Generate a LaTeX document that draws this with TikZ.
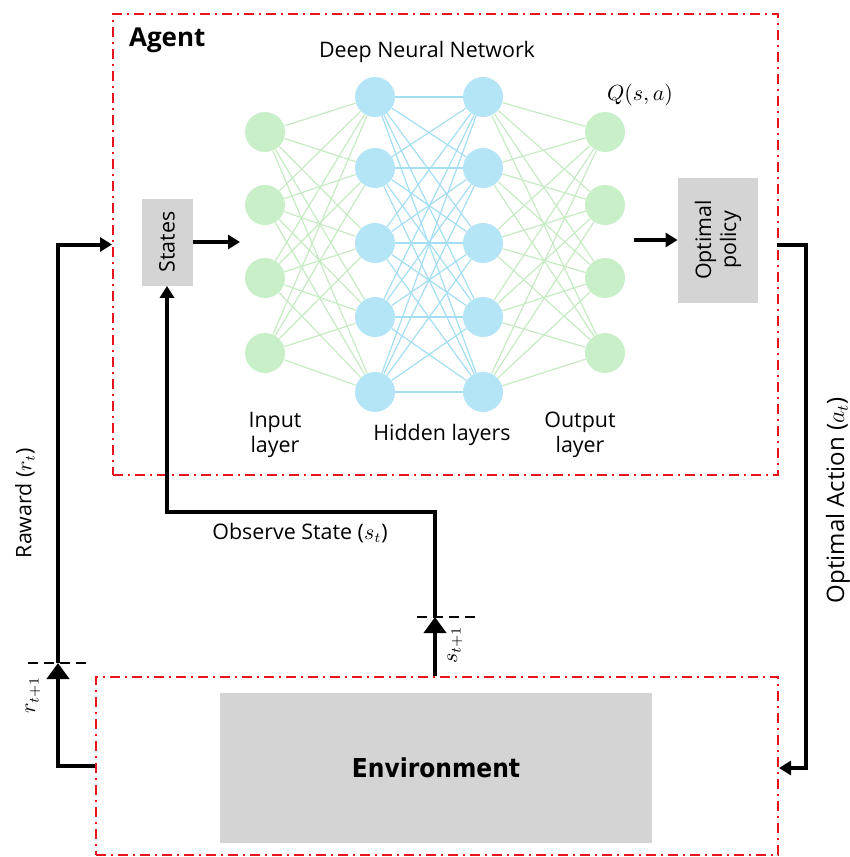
\documentclass[tikz,border=0pt]{standalone}
\usepackage{fontspec}
\setmainfont{Open Sans}
\newfontfamily\condfont{DejaVu Sans Condensed}
\usetikzlibrary{arrows.meta}

\definecolor{framered}{HTML}{E8141C}
\definecolor{boxgray}{HTML}{D4D4D4}
\definecolor{ingreen}{HTML}{C8EFC8}
\definecolor{hidblue}{HTML}{B3E5F7}
\definecolor{greenline}{HTML}{C6EBC3}
\definecolor{blueline}{HTML}{A3DEF2}

\tikzset{
  frame/.style={draw=framered, line width=1pt, dash pattern=on 5pt off 2.5pt on 1pt off 2.5pt},
  graybox/.style={fill=boxgray, inner sep=1pt},
  inneuron/.style={shape=circle, fill=ingreen, minimum size=20pt, inner sep=0pt},
  hidneuron/.style={shape=circle, fill=hidblue, minimum size=20pt, inner sep=0pt},
  wire/.style={line width=2pt},
  smalltip/.style={-{Triangle[length=6pt,width=7pt]}},
  bigtip/.style={-{Triangle[length=8pt,width=11pt]}},
  tick/.style={black, line width=0.8pt, dash pattern=on 5pt off 3pt},
  txt/.style={font=\fontsize{10.7}{12.5}\selectfont}
}

\begin{document}
\begin{tikzpicture}[x=0.5pt,y=-0.5pt]
  \useasboundingbox (0,0) rectangle (850,857);

  % frames
  \node[frame, minimum width=332.5pt, minimum height=230.5pt] (agent) at (445.5,244.5) {};
  \node[frame, minimum width=341pt, minimum height=89pt] (env) at (437,766) {};

  \node[font=\fontsize{13}{15}\selectfont\bfseries, anchor=west] (agentlbl) at (122,40) {Agent};
  \node[txt] (dnn) at (427,52) {Deep Neural Network};

  % network
  \foreach \i/\y in {1/132,2/205,3/278,4/353} {
    \node[inneuron] (in\i) at (265,\y) {};
    \node[inneuron] (out\i) at (605,\y) {};
  }
  \foreach \i/\y in {1/97,2/168,3/243,4/317,5/392} {
    \node[hidneuron] (ha\i) at (375,\y) {};
    \node[hidneuron] (hb\i) at (483,\y) {};
  }
  \foreach \i in {1,...,4}
    \foreach \j in {1,...,5} {
      \path [draw=greenline, line width=0.6pt] (in\i) edge (ha\j);
      \path [draw=greenline, line width=0.6pt] (hb\j) edge (out\i);
    }
  \foreach \i in {1,...,5}
    \foreach \j in {1,...,5}
      \path [draw=blueline, line width=0.6pt] (ha\i) edge (hb\j);

  \node[font=\fontsize{11}{13}\selectfont] (qsa) at (640,95) {$Q(s,a)$};
  \node[txt, align=center] (inlbl) at (275,435) {Input\\layer};
  \node[txt] (hidlbl) at (442,435) {Hidden layers};
  \node[txt, align=center] (outlbl) at (580,435) {Output\\layer};

  % boxes
  \node[graybox, txt, rotate=90, minimum width=43.5pt, minimum height=25.5pt] (states) at (167,242) {States};
  \node[graybox, txt, rotate=90, align=center, minimum width=62.5pt, minimum height=40pt] (policy) at (718,240) {Optimal\\policy};
  \node[graybox, minimum width=216pt, minimum height=75pt, font=\condfont\fontsize{13}{15}\selectfont\bfseries] (envbox) at (436,768) {Environment};

  % connectors
  \coordinate (netin) at (240,242);
  \coordinate (netout) at (634,240);
  \draw[wire, smalltip] (states.south) -- (netin);
  \draw[wire, smalltip] (netout) -- (policy.north);

  \coordinate (actout) at (777,245);
  \coordinate (actin) at (779,768);
  \draw[wire, smalltip] (actout) -- (806,245) |- (actin);

  \coordinate (rtick) at (58,663);
  \draw[wire, bigtip] (env.west) -| (rtick);
  \draw[wire, smalltip] (rtick) |- (agent.west);
  \draw[tick] ([xshift=-15pt]rtick) -- ([xshift=15pt]rtick);

  \coordinate (stick) at (435,617);
  \coordinate (sbend) at (435,512);
  \draw[wire, bigtip] (stick |- env.north) -- (stick);
  \draw[wire, smalltip] (stick) -- (sbend) -| (states.west);
  \draw[tick] ([xshift=-9pt]stick) -- ([xshift=21pt]stick);

  % labels
  \node[txt, rotate=90] (rlbl) at (25,503) {Raward ($r_t$)};
  \node[txt, rotate=90] (rnext) at (33,695) {$r_{t+1}$};
  \node[txt, rotate=90] (snext) at (455,645) {$s_{t+1}$};
  \node[txt] (obslbl) at (300,533) {Observe State ($s_t$)};
  \node[rotate=90, font=\fontsize{12}{14}\selectfont] (actlbl) at (838,500) {Optimal Action ($a_t$)};
\end{tikzpicture}
\end{document}
